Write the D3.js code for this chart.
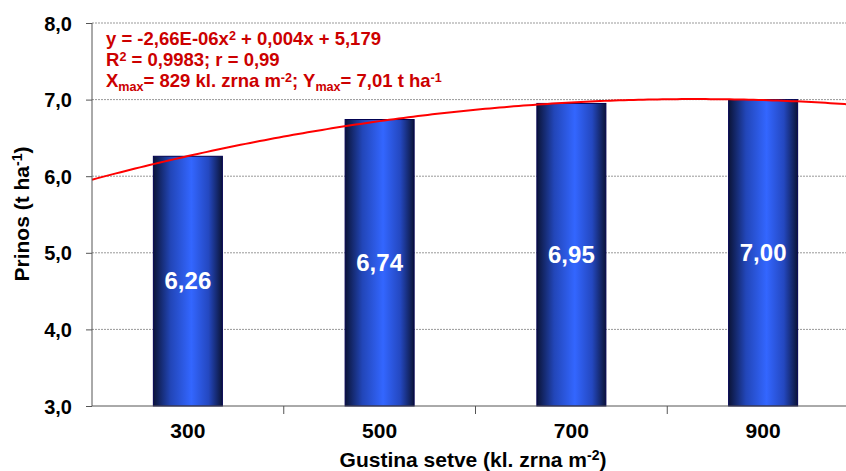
<!DOCTYPE html>
<html>
<head>
<meta charset="utf-8">
<script src="https://cdn.jsdelivr.net/npm/d3@7"></script>
<style>
  body { margin: 0; background: #fff; }
  svg { font-family: "Liberation Sans", Arial, sans-serif; display: block; }
</style>
</head>
<body>
<div id="chart"></div>
<script>
// data
const densities = [300, 500, 700, 900];
const yields = [6.26, 6.74, 6.95, 7.0];
const yTicks = [3, 4, 5, 6, 7, 8];
// quadratic trend coefficients (from the equation label)
const trendCoef = { a: -2.66e-6, b: 0.00441, c: 5.179 };

const width = 846, height = 471;
const margin = { top: 23, right: -13, bottom: 65, left: 92 };
const innerW = width - margin.left - margin.right;
const innerH = height - margin.top - margin.bottom;

const svg = d3.select("#chart").append("svg")
  .attr("width", width).attr("height", height);

const defs = svg.append("defs");
const grad = defs.append("linearGradient").attr("id", "barGrad")
  .attr("x1", "0%").attr("x2", "100%").attr("y1", "0%").attr("y2", "0%");
grad.append("stop").attr("offset", "0%").attr("stop-color", "#0b1438");
grad.append("stop").attr("offset", "25%").attr("stop-color", "#2246b8");
grad.append("stop").attr("offset", "55%").attr("stop-color", "#3366ff");
grad.append("stop").attr("offset", "80%").attr("stop-color", "#2448c0");
grad.append("stop").attr("offset", "100%").attr("stop-color", "#0b1438");

const g = svg.append("g").attr("transform", `translate(${margin.left},${margin.top})`);

const x = d3.scaleBand().domain(densities).range([0, innerW]).paddingInner(0).paddingOuter(0);
const y = d3.scaleLinear().domain([3, 8]).range([innerH, 0]);
// continuous scale for the trend line, aligned with band centres
const xLin = d3.scaleLinear()
  .domain([300, 500])
  .range([x(300) + x.bandwidth() / 2, x(500) + x.bandwidth() / 2]);

// gridlines
g.append("g").selectAll("line")
  .data(yTicks.filter(d => d > 3))
  .join("line")
  .attr("x1", 0).attr("x2", innerW)
  .attr("y1", d => y(d)).attr("y2", d => y(d))
  .attr("stroke", "#999").attr("stroke-width", 1)
  .attr("stroke-dasharray", "2,1");

// bars
const barW = x.bandwidth() * 0.36;
g.append("g").selectAll("rect")
  .data(densities)
  .join("rect")
  .attr("x", (d) => x(d) + (x.bandwidth() - barW) / 2)
  .attr("y", (d, i) => y(yields[i]))
  .attr("width", barW)
  .attr("height", (d, i) => y(3) - y(yields[i]))
  .attr("fill", "url(#barGrad)")
  .attr("stroke", "#000050").attr("stroke-width", 1);

// bar labels
g.append("g").selectAll("text")
  .data(densities)
  .join("text")
  .attr("x", d => x(d) + x.bandwidth() / 2)
  .attr("y", (d, i) => (y(yields[i]) + y(3)) / 2 + 8)
  .attr("text-anchor", "middle")
  .attr("fill", "#fff")
  .style("font-size", "24px").style("font-weight", "bold")
  .text((d, i) => d3.format(".2f")(yields[i]).replace(".", ","));

// trend line
const trend = d => trendCoef.a * d * d + trendCoef.b * d + trendCoef.c;
const xs = d3.range(200, 1001, 5);
g.append("path")
  .datum(xs)
  .attr("fill", "none")
  .attr("stroke", "#ff0000").attr("stroke-width", 2)
  .attr("d", d3.line().x(d => xLin(d)).y(d => y(trend(d))));

// axes
const yAxis = d3.axisLeft(y).tickValues(yTicks).tickSize(6)
  .tickFormat(d => d3.format(".1f")(d).replace(".", ","));
g.append("g").call(yAxis)
  .call(a => a.select(".domain").attr("stroke", "#555").attr("d", `M0,${innerH}V0`))
  .call(a => a.selectAll(".tick line").attr("stroke", "#555"))
  .call(a => a.selectAll("text").attr("x", -20).attr("dy", "0.35em")
    .attr("fill", "#000").style("font-size", "20px").style("font-weight", "bold")
    .style("font-family", "Liberation Sans, Arial, sans-serif"));

const xAxisG = g.append("g").attr("transform", `translate(0,${innerH})`);
xAxisG.append("line").attr("x1", 0).attr("x2", innerW).attr("stroke", "#555");
xAxisG.selectAll(".xtick")
  .data(densities.slice(1))
  .join("line")
  .attr("x1", d => x(d)).attr("x2", d => x(d))
  .attr("y1", 0).attr("y2", 8).attr("stroke", "#555");
xAxisG.selectAll("text")
  .data(densities)
  .join("text")
  .attr("x", d => x(d) + x.bandwidth() / 2)
  .attr("y", 32)
  .attr("text-anchor", "middle")
  .style("font-size", "21px").style("font-weight", "bold")
  .text(d => d);

// axis titles
const xt = svg.append("text")
  .attr("x", 473).attr("y", 467)
  .attr("text-anchor", "middle")
  .style("font-size", "21px").style("font-weight", "bold");
xt.append("tspan").text("Gustina setve (kl. zrna m");
xt.append("tspan").attr("dy", -7).style("font-size", "14px").text("-2");
xt.append("tspan").attr("dy", 7).text(")");

const yt = svg.append("text")
  .attr("transform", "translate(29,214) rotate(-90)")
  .attr("text-anchor", "middle")
  .style("font-size", "21px").style("font-weight", "bold");
yt.append("tspan").text("Prinos (t ha");
yt.append("tspan").attr("dy", -7).style("font-size", "14px").text("-1");
yt.append("tspan").attr("dy", 7).text(")");

// equation
const eq = svg.append("g").attr("fill", "#cc0000")
  .style("font-size", "18.5px").style("font-weight", "bold");
const l1 = eq.append("text").attr("x", 106).attr("y", 45);
l1.append("tspan").text("y = -2,66E-06x");
l1.append("tspan").attr("dy", -5).style("font-size", "12.6px").text("2");
l1.append("tspan").attr("dy", 5).text(" + 0,004x + 5,179");
const l2 = eq.append("text").attr("x", 106).attr("y", 66);
l2.append("tspan").text("R");
l2.append("tspan").attr("dy", -5).style("font-size", "12.6px").text("2");
l2.append("tspan").attr("dy", 5).text(" = 0,9983; r = 0,99");
const l3 = eq.append("text").attr("x", 106).attr("y", 87);
l3.append("tspan").text("X");
l3.append("tspan").attr("dy", 4).style("font-size", "12.6px").text("max");
l3.append("tspan").attr("dy", -4).text("= 829 kl. zrna m");
l3.append("tspan").attr("dy", -5).style("font-size", "12.6px").text("-2");
l3.append("tspan").attr("dy", 5).text("; Y");
l3.append("tspan").attr("dy", 4).style("font-size", "12.6px").text("max");
l3.append("tspan").attr("dy", -4).text("= 7,01 t ha");
l3.append("tspan").attr("dy", -5).style("font-size", "12.6px").text("-1");
</script>
</body>
</html>
